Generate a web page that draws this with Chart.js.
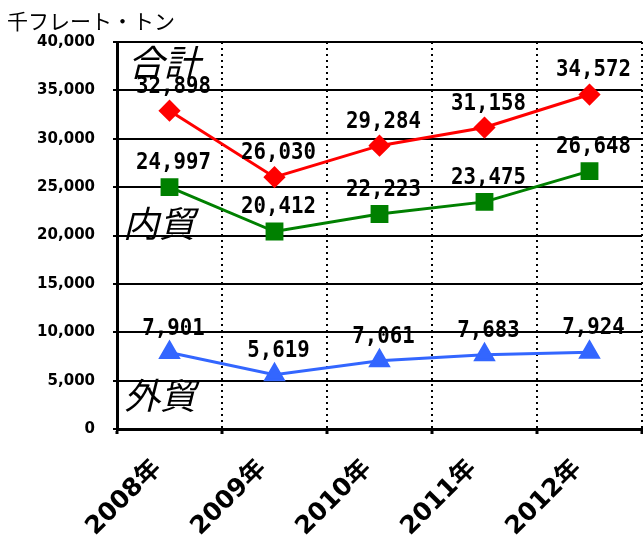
<!DOCTYPE html>
<html><head><meta charset="utf-8">
<script src="https://cdn.jsdelivr.net/npm/chart.js@4/dist/chart.umd.min.js"></script>
<style>html,body{margin:0;padding:0;background:#fff}#wrap{width:643px;height:535px}</style>
</head><body><div id="wrap"><canvas id="c" width="643" height="535"></canvas></div>
<script>
const categories = ['2008年','2009年','2010年','2011年','2012年'];
const totalValues = [32898, 26030, 29284, 31158, 34572];
const domesticValues = [24997, 20412, 22223, 23475, 26648];
const foreignValues = [7901, 5619, 7061, 7683, 7924];
const seriesNames = ['合計','内貿','外貿'];
const unitLabel = '千フレート・トン';

const fmt = v => v.toLocaleString('en-US');

const decor = {
  id: 'decor',
  afterDatasetsDraw(chart) {
    const ctx = chart.ctx, ca = chart.chartArea, ys = chart.scales.y;
    ctx.save();
    // data labels
    ctx.font = 'bold 23px "DejaVu Sans Mono"';
    ctx.fillStyle = '#000';
    ctx.textAlign = 'center';
    ctx.textBaseline = 'middle';
    const sx = 0.9;
    chart.data.datasets.forEach((ds, di) => {
      const meta = chart.getDatasetMeta(di);
      meta.data.forEach((pt, i) => {
        ctx.save();
        ctx.translate(pt.x + 4, pt.y - 24);
        ctx.scale(sx, 1);
        ctx.fillText(fmt(ds.data[i]), 0, 0);
        ctx.restore();
      });
    });
    // series names (italic)
    ctx.font = 'italic 36px "Noto Sans CJK JP"';
    ctx.textAlign = 'left';
    ctx.textBaseline = 'middle';
    ctx.fillText(seriesNames[0], ca.left + 11, ys.getPixelForValue(37900));
    ctx.fillText(seriesNames[1], ca.left + 6, ys.getPixelForValue(21300));
    ctx.fillText(seriesNames[2], ca.left + 7, ys.getPixelForValue(3500));
    // unit
    ctx.font = '21px "Noto Sans CJK JP"';
    ctx.fillText(unitLabel, 7, 21);
    ctx.restore();
  }
};

new Chart(document.getElementById('c'), {
  type: 'line',
  data: {
    labels: categories,
    datasets: [
      {label: seriesNames[0], data: totalValues, borderColor: '#FF0000', backgroundColor: '#FF0000', borderWidth: 3, pointStyle: 'rectRot', pointRadius: 9, pointHoverRadius: 9},
      {label: seriesNames[1], data: domesticValues, borderColor: '#008000', backgroundColor: '#008000', borderWidth: 3, pointStyle: 'rect', pointRadius: 10.5, pointHoverRadius: 10.5},
      {label: seriesNames[2], data: foreignValues, borderColor: '#3366FF', backgroundColor: '#3366FF', borderWidth: 3, pointStyle: 'triangle', pointRadius: 10, pointHoverRadius: 10}
    ]
  },
  options: {
    responsive: false,
    animation: false,
    layout: {autoPadding: false, padding: {top: 42, right: 1, left: 0, bottom: 0}},
    plugins: {legend: {display: false}, tooltip: {enabled: false}},
    scales: {
      x: {
        offset: true,
        grid: {offset: true, color: '#000', lineWidth: 2, drawTicks: true, tickLength: 5, tickColor: '#000', tickWidth: 3, tickBorderDash: []},
        border: {color: '#000', width: 3, dash: [2, 4]},
        ticks: {color: '#000', font: {family: '"DejaVu Sans", "Noto Sans CJK JP"', size: 25, weight: 'bold'}, minRotation: 45, maxRotation: 45, padding: 20, labelOffset: -12, autoSkip: false},
        afterFit(s) { s.height = 106; s.paddingLeft = 0; s.paddingRight = 0; }
      },
      y: {
        min: 0, max: 40000,
        ticks: {stepSize: 5000, color: '#000', font: {family: '"DejaVu Sans"', size: 15, weight: 'bold'}, padding: 18, callback: v => fmt(v)},
        grid: {color: '#000', lineWidth: 2, drawTicks: true, tickLength: 4},
        border: {color: '#000', width: 3},
        afterFit(s) { s.width = 117; }
      }
    }
  },
  plugins: [decor]
});
</script></body></html>
